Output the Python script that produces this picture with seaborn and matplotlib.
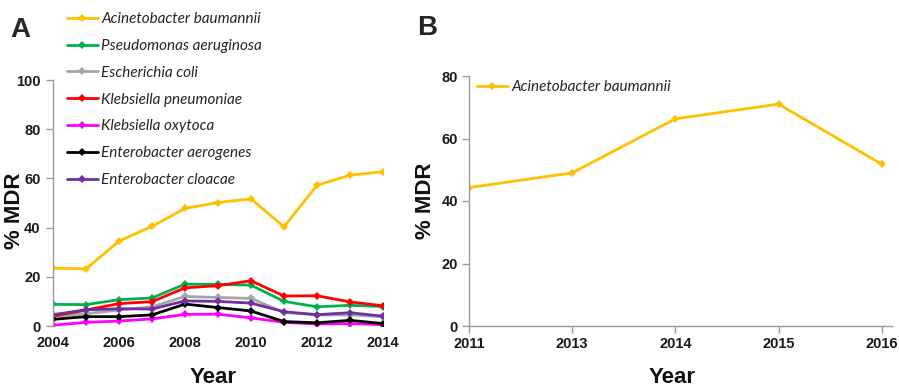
import matplotlib
matplotlib.use("Agg")
import matplotlib.pyplot as plt
import seaborn as sns
import pandas as pd
from matplotlib.lines import Line2D

# ---- Panel A data: % MDR by year, 2004-2014 ----
years_a = [2004, 2005, 2006, 2007, 2008, 2009, 2010, 2011, 2012, 2013, 2014]
a_baumannii = [23.5, 23.2, 34.5, 40.5, 47.8, 50.2, 51.7, 40.3, 57.2, 61.3, 62.7]
p_aeruginosa = [8.8, 8.7, 10.7, 11.4, 17.0, 16.9, 16.6, 10.0, 7.8, 8.4, 7.9]
e_coli = [4.0, 5.0, 6.5, 7.8, 12.0, 11.6, 11.2, 5.5, 4.5, 4.5, 3.8]
k_pneumoniae = [4.0, 6.5, 9.1, 9.9, 15.5, 16.4, 18.4, 12.2, 12.3, 9.8, 8.2]
k_oxytoca = [0.3, 1.5, 2.0, 2.9, 4.7, 4.8, 3.3, 1.5, 0.8, 1.0, 0.5]
e_aerogenes = [2.7, 3.8, 3.8, 4.5, 8.9, 7.5, 6.1, 1.8, 1.3, 2.3, 1.0]
e_cloacae = [4.6, 6.6, 7.0, 6.9, 10.2, 10.0, 9.3, 5.8, 4.6, 5.4, 4.0]

species = ["Acinetobacter baumannii", "Pseudomonas aeruginosa", "Escherichia coli",
           "Klebsiella pneumoniae", "Klebsiella oxytoca", "Enterobacter aerogenes",
           "Enterobacter cloacae"]
series_a = [a_baumannii, p_aeruginosa, e_coli, k_pneumoniae, k_oxytoca, e_aerogenes, e_cloacae]
colors = ["#FFC000", "#00B050", "#A6A6A6", "#FF0000", "#FF00FF", "#000000", "#7030A0"]

# ---- Panel B data: A. baumannii % MDR ----
years_b = ["2011", "2013", "2014", "2015", "2016"]
b_baumannii = [44.3, 49.0, 66.3, 71.0, 51.8]

df_a = pd.DataFrame({
    "Year": years_a * len(species),
    "MDR": [v for s in series_a for v in s],
    "Species": [sp for sp in species for _ in years_a],
})
df_b = pd.DataFrame({"Year": years_b, "MDR": b_baumannii,
                     "Species": [species[0]] * len(years_b)})

sns.set_style("white")
plt.rcParams["font.family"] = ["Liberation Sans", "DejaVu Sans"]

W, H = 899, 387
fig = plt.figure(figsize=(W / 100, H / 100), dpi=100)

def box(l, t, r, b):
    return [l / W, 1 - b / H, (r - l) / W, (b - t) / H]

ax_a = fig.add_axes(box(53, 80, 383, 326))
ax_b = fig.add_axes(box(469, 76, 892, 326))

palette = dict(zip(species, colors))
line_kw = dict(marker="D", markersize=4.5, linewidth=2.0, markeredgewidth=0)

sns.lineplot(data=df_a, x="Year", y="MDR", hue="Species", palette=palette,
             hue_order=species, ax=ax_a, legend=False, **line_kw)
sns.lineplot(data=df_b, x="Year", y="MDR", hue="Species", palette=palette,
             ax=ax_b, legend=False, sort=False, **line_kw)

spine_col = "#9a9a9a"

# Panel A axes
ax_a.set_xlim(2004, 2014)
ax_a.set_ylim(0, 100)
ax_a.set_xticks([2004, 2006, 2008, 2010, 2012, 2014])
ax_a.set_yticks([0, 20, 40, 60, 80, 100])
for s in ["top", "right", "bottom"]:
    ax_a.spines[s].set_visible(False)
ax_a.spines["left"].set_color(spine_col)
ax_a.spines["left"].set_linewidth(1)
ax_a.tick_params(axis="y", left=True, length=5, color=spine_col, width=1, pad=4)
ax_a.tick_params(axis="x", bottom=False, pad=4)

# Panel B axes
ax_b.set_xlim(0, 4.1)
ax_b.set_ylim(0, 80)
ax_b.set_yticks([0, 20, 40, 60, 80])
for s in ["top", "right"]:
    ax_b.spines[s].set_visible(False)
for s in ["left", "bottom"]:
    ax_b.spines[s].set_color(spine_col)
    ax_b.spines[s].set_linewidth(1)
ax_b.tick_params(axis="both", left=True, bottom=True, length=5, color=spine_col,
                 width=1, pad=3)

for ax in (ax_a, ax_b):
    for lab in ax.get_xticklabels() + ax.get_yticklabels():
        lab.set_fontsize(10.5)
        lab.set_fontweight("bold")
        lab.set_color("#1a1a1a")
    ax.set_xlabel("Year", fontsize=16, fontweight="bold", color="#111111")
    ax.set_ylabel("% MDR", fontsize=16, fontweight="bold", color="#111111")
    ax.grid(False)

ax_a.xaxis.set_label_coords((213 - 53) / (383 - 53), -(367 - 326) / (326 - 80))
ax_b.xaxis.set_label_coords((672 - 469) / (892 - 469), -(367 - 326) / (326 - 76))
# y-label anchor is the right edge of the rotated text
ax_a.yaxis.set_label_coords(-(53 - 25) / (383 - 53), 0.47)
ax_b.yaxis.set_label_coords(-(469 - 436) / (892 - 469), 0.5)

# Legends
def handles(names):
    return [Line2D([], [], color=palette[n], **line_kw) for n in names]

leg_font = dict(family=["Lato", "DejaVu Sans"], style="italic", size=11)
fig.legend(handles(species), species, loc="upper left",
           bbox_to_anchor=(64 / W, 1 - 9 / H), frameon=False, prop=leg_font,
           handlelength=2.0, handletextpad=0.25, labelspacing=0.84,
           borderaxespad=0, borderpad=0.2)
ax_b.legend(handles([species[0]]), [species[0]], loc="upper left",
            bbox_to_anchor=((474 - 469) / (892 - 469), 0.995), frameon=False,
            prop=leg_font, handlelength=2.0, handletextpad=0.25,
            borderaxespad=0, borderpad=0.2)

# Panel letters
fig.text(10 / W, 1 - 30 / H, "A", fontsize=20, fontweight="bold", va="center")
fig.text(417 / W, 1 - 28 / H, "B", fontsize=20, fontweight="bold", va="center")

fig.savefig("out.png", dpi=100)
